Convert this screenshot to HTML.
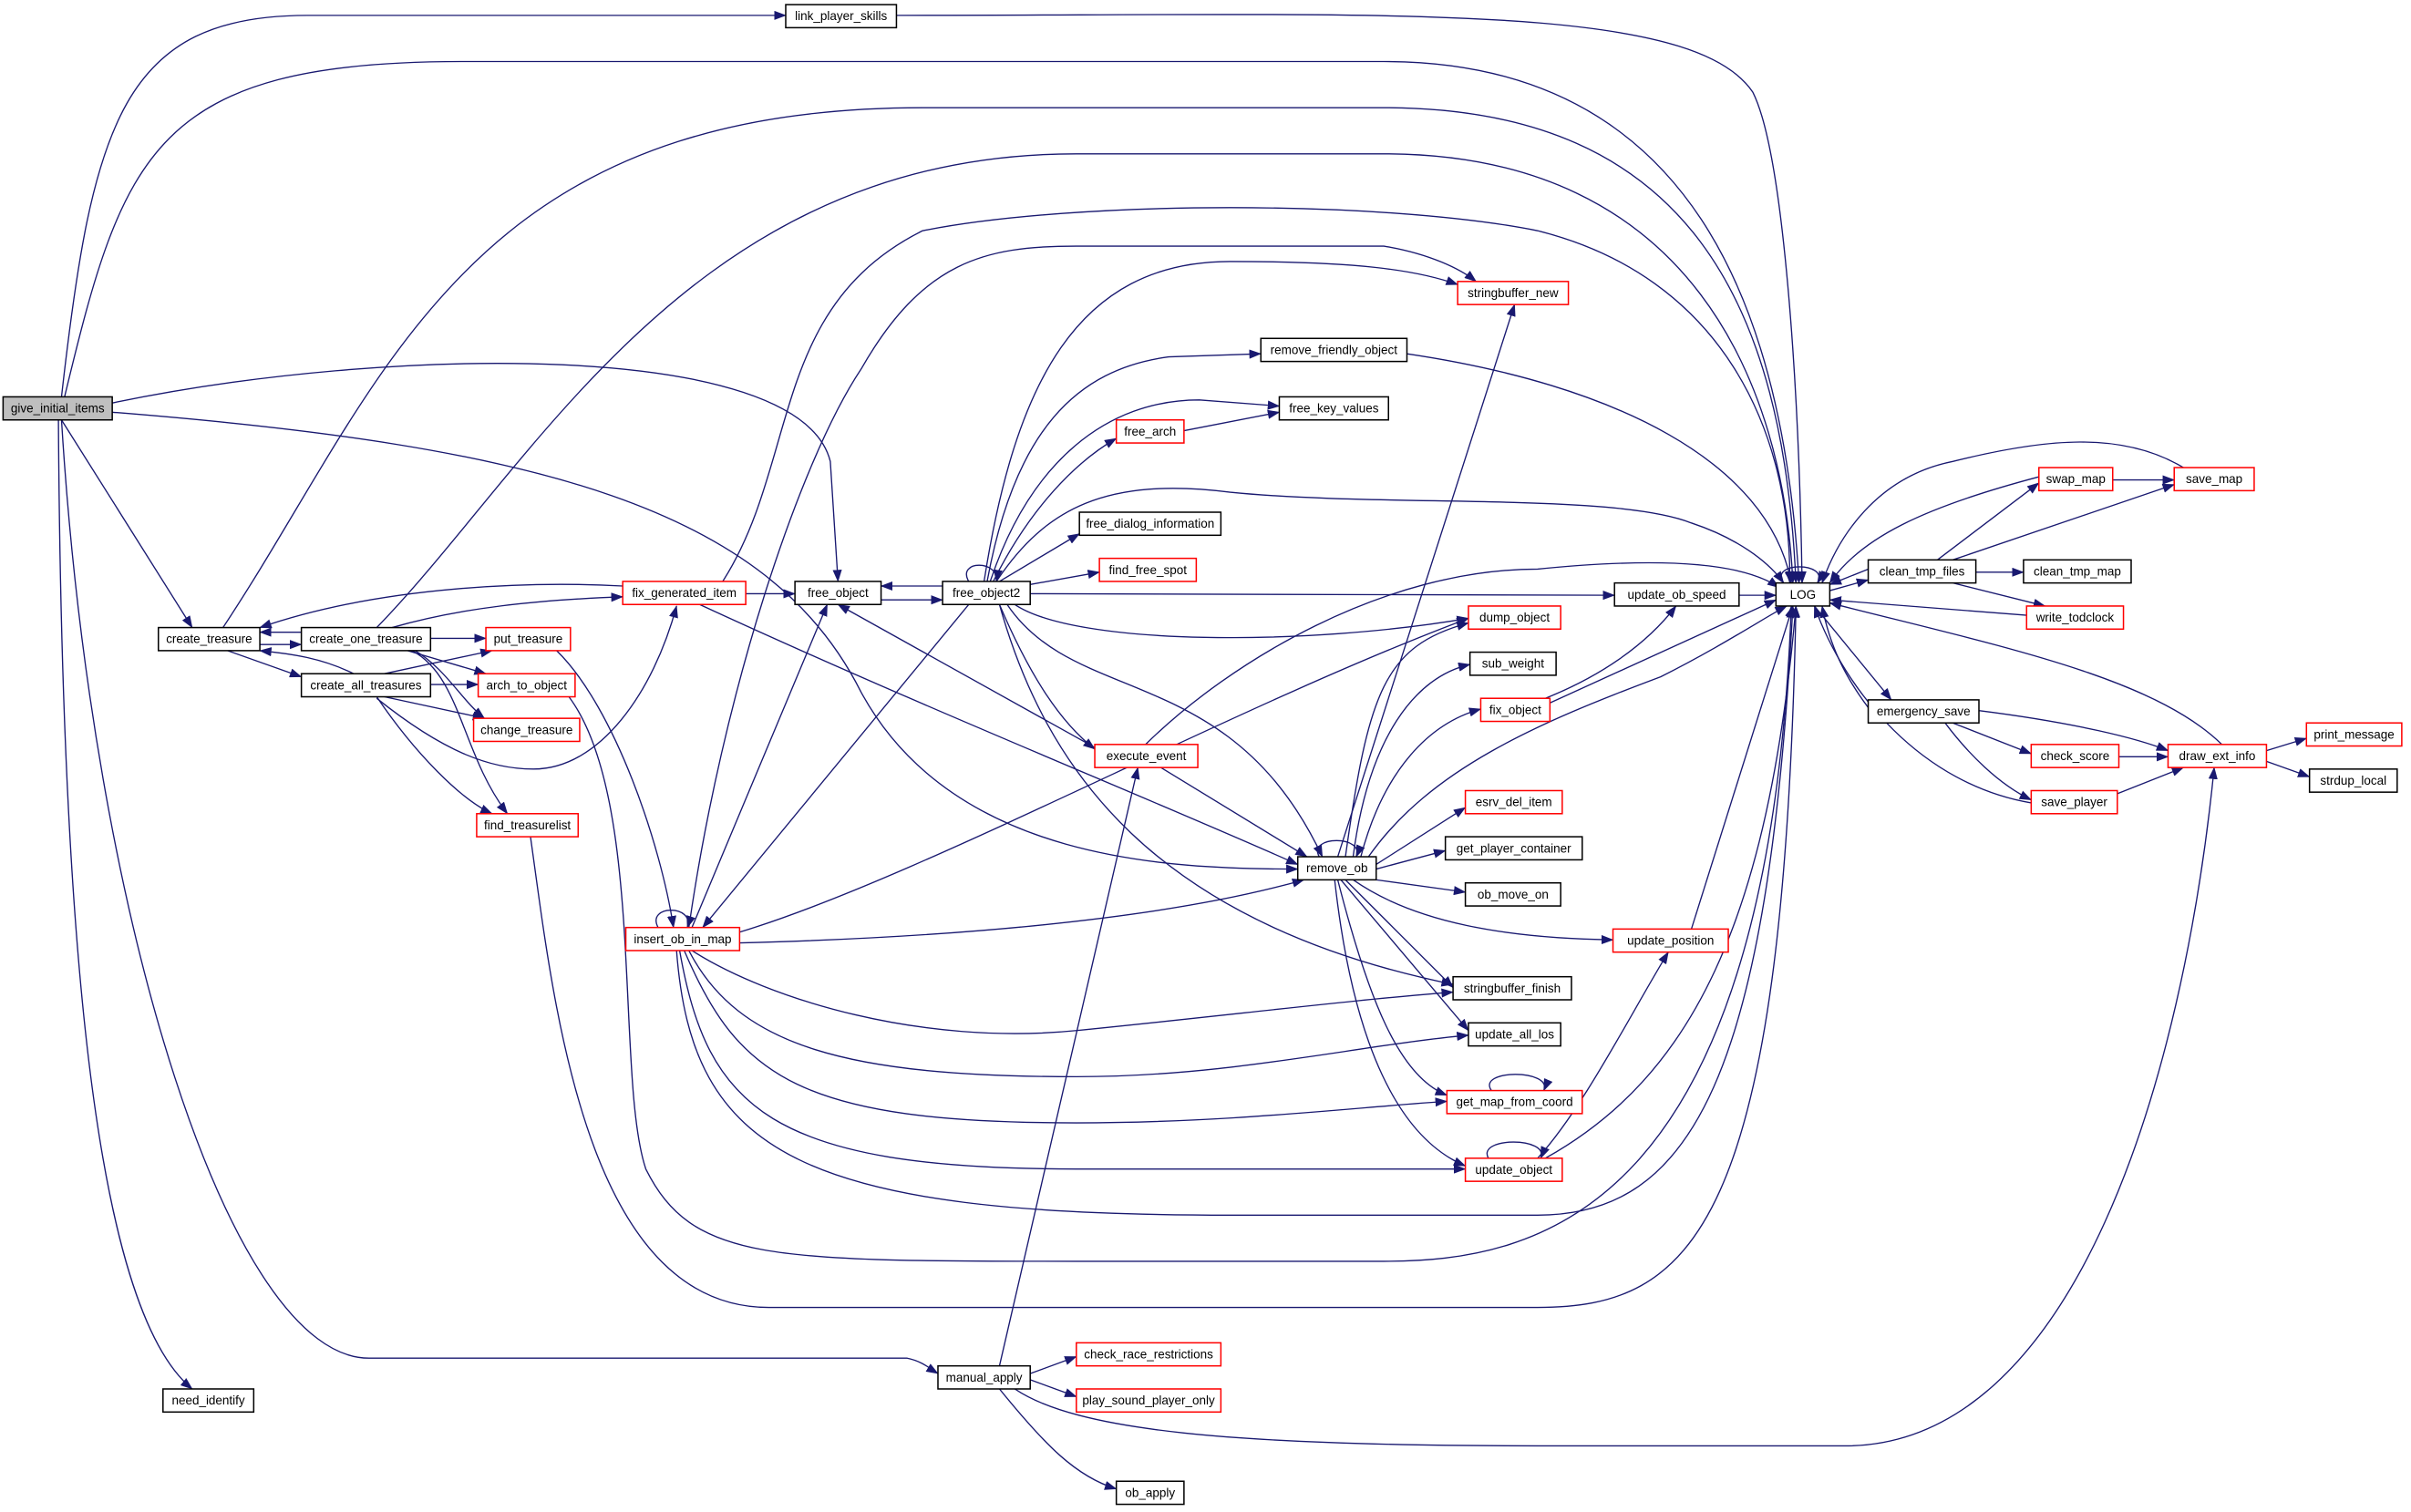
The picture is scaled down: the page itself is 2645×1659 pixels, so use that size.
<!DOCTYPE html>
<html><head><meta charset="utf-8"><style>
html,body{margin:0;padding:0;background:#fff;}
svg{display:block;}
text{font-family:"Liberation Sans",sans-serif;font-size:8px;fill:#000;text-anchor:middle;dominant-baseline:central;}
.e{fill:none;stroke:#191970;stroke-width:0.8;}
.n{fill:#fff;stroke:#000;stroke-width:0.9;}
.r{fill:#fff;stroke:#ff0000;stroke-width:0.9;}
</style></head><body>
<svg width="2645" height="1659" viewBox="0 0 1568 983" preserveAspectRatio="none" xmlns="http://www.w3.org/2000/svg">
<defs><marker id="a" markerWidth="8" markerHeight="6" refX="7.5" refY="3" orient="auto" markerUnits="userSpaceOnUse"><path d="M0,0 L8,3 L0,6 Z" fill="#191970"/></marker></defs>
<g class="e" marker-end="url(#a)">
<path d="M40,258 C60,80 80,10 200,10 L511,10"/>
<path d="M583,10 C900,10 1100,0 1140,60 C1160,100 1170,250 1172,379"/>
<path d="M42,258 C80,100 100,40 300,40 L900,40 C1100,40 1160,200 1170,379"/>
<path d="M40,273 L125,408"/>
<path d="M38,273 C40,600 60,850 125,903"/>
<path d="M40,273 C60,600 150,883 240,883 L590,883 C600,885 605,890 610,893"/>
<path d="M73,262 C250,225 520,220 540,300 L545,378"/>
<path d="M73,268 C350,290 500,330 560,450 C620,560 760,565 844,565"/>
<path d="M145,408 C250,250 300,70 600,70 L900,70 C1100,70 1160,200 1168,379"/>
<path d="M245,408 C350,300 450,100 700,100 L900,100 C1100,100 1160,250 1166,379"/>
<path d="M196,411 L169,411"/>
<path d="M169,419 L196,419"/>
<path d="M148,423 L196,440"/>
<path d="M230,438 C210,428 190,425 169,423"/>
<path d="M405,381 C350,378 250,380 169,408"/>
<path d="M255,408 C300,395 350,390 405,388"/>
<path d="M485,386 L517,386"/>
<path d="M470,378 C520,300 500,200 600,150 C700,130 900,130 1000,150 C1120,180 1165,280 1164,379"/>
<path d="M455,393 C600,460 750,520 844,562"/>
<path d="M280,415 L316,415"/>
<path d="M265,423 L316,438"/>
<path d="M270,423 C290,435 300,455 315,467"/>
<path d="M268,423 C300,440 300,490 330,529"/>
<path d="M250,438 L320,423"/>
<path d="M280,445 L311,445"/>
<path d="M250,453 L315,467"/>
<path d="M245,453 C270,490 300,520 320,529"/>
<path d="M245,454 C290,490 320,500 347,500 C390,500 425,450 440,394"/>
<path d="M362,423 C400,460 430,550 438,603"/>
<path d="M370,453 C420,520 400,700 420,760 C450,820 500,820 700,820 L900,820 C1000,820 1150,790 1165,394"/>
<path d="M345,544 C360,650 380,850 500,850 L1000,850 C1100,850 1160,800 1168,394"/>
<path d="M428,603 C420,588 452,588 447,603"/>
<path d="M450,603 L538,393"/>
<path d="M630,393 L457,603"/>
<path d="M448,603 C470,450 520,300 560,240 C600,170 640,160 700,160 L900,160 C930,165 950,175 960,183"/>
<path d="M481,606 C600,570 800,460 955,402"/>
<path d="M481,613 C600,610 750,600 848,572"/>
<path d="M450,618 C500,650 600,680 700,670 C800,660 880,650 945,645"/>
<path d="M448,618 C480,680 550,700 700,700 C800,700 880,680 955,673"/>
<path d="M445,618 C480,700 520,730 700,730 C800,730 880,720 941,716"/>
<path d="M442,618 C460,720 500,760 700,760 L953,760"/>
<path d="M440,618 C450,750 520,790 800,790 L1000,790 C1100,790 1150,700 1166,394"/>
<path d="M613,381 L573,381"/>
<path d="M573,390 L613,390"/>
<path d="M630,378 C622,364 650,364 648,378"/>
<path d="M640,378 C660,250 700,170 800,170 C880,170 920,175 948,185"/>
<path d="M642,378 C660,280 700,240 760,232 L820,230"/>
<path d="M644,378 C670,300 720,260 780,260 L832,264"/>
<path d="M646,378 C670,330 700,300 726,285"/>
<path d="M648,378 C680,330 720,310 800,320 C900,330 1050,320 1100,340 C1130,350 1150,365 1160,379"/>
<path d="M650,378 L702,347"/>
<path d="M670,380 L715,372"/>
<path d="M670,386 L1050,387"/>
<path d="M660,393 C700,420 850,420 955,402"/>
<path d="M650,393 C670,440 690,470 712,487"/>
<path d="M655,393 C700,460 800,430 860,557"/>
<path d="M650,393 C680,500 750,600 945,640"/>
<path d="M770,280 L832,268"/>
<path d="M915,230 C1050,250 1150,300 1165,379"/>
<path d="M712,486 L545,393"/>
<path d="M745,484 C800,430 900,370 1000,370 C1100,360 1140,370 1157,382"/>
<path d="M755,499 L850,557"/>
<path d="M650,888 L740,499"/>
<path d="M670,893 L700,882"/>
<path d="M670,897 L700,908"/>
<path d="M650,903 C680,940 700,960 726,968"/>
<path d="M660,903 C700,930 800,940 1000,940 L1200,940 C1350,940 1420,700 1440,499"/>
<path d="M858,557 C850,543 888,543 882,557"/>
<path d="M870,557 L985,198"/>
<path d="M875,557 C890,450 900,420 955,405"/>
<path d="M880,557 C890,480 920,440 956,432"/>
<path d="M885,557 C900,500 930,470 963,461"/>
<path d="M890,557 C930,500 1000,470 1080,440 C1120,420 1150,400 1162,394"/>
<path d="M895,562 L953,525"/>
<path d="M895,565 L940,553"/>
<path d="M895,572 L953,580"/>
<path d="M880,572 C920,600 980,610 1049,611"/>
<path d="M875,572 L945,642"/>
<path d="M872,572 L955,670"/>
<path d="M870,572 C890,650 910,700 941,712"/>
<path d="M868,572 C880,680 910,740 953,758"/>
<path d="M1005,454 C1040,440 1070,420 1090,394"/>
<path d="M1008,457 L1155,390"/>
<path d="M1131,387 L1155,387"/>
<path d="M1100,604 L1166,394"/>
<path d="M970,709 C960,695 1010,695 1004,709"/>
<path d="M968,753 C960,739 1008,739 1002,753"/>
<path d="M1000,753 C1030,720 1060,660 1085,619"/>
<path d="M1005,753 C1100,700 1150,600 1168,394"/>
<path d="M1160,379 C1150,365 1190,365 1182,379"/>
<path d="M1190,384 L1215,377"/>
<path d="M1215,370 L1190,380"/>
<path d="M1180,394 L1230,455"/>
<path d="M1215,460 C1200,440 1190,420 1185,394"/>
<path d="M1260,364 L1326,314"/>
<path d="M1270,364 L1414,315"/>
<path d="M1285,372 L1316,372"/>
<path d="M1270,379 L1330,394"/>
<path d="M1326,310 C1250,330 1210,350 1190,379"/>
<path d="M1374,312 L1414,312"/>
<path d="M1420,304 C1380,280 1330,285 1270,300 C1220,310 1195,350 1185,379"/>
<path d="M1318,400 L1190,390"/>
<path d="M1270,470 L1321,490"/>
<path d="M1265,470 C1280,490 1300,510 1321,520"/>
<path d="M1287,462 C1350,470 1390,480 1410,488"/>
<path d="M1378,492 L1410,492"/>
<path d="M1377,516 L1420,499"/>
<path d="M1321,522 C1250,510 1200,450 1180,394"/>
<path d="M1445,484 C1400,440 1300,420 1190,392"/>
<path d="M1474,488 L1500,480"/>
<path d="M1474,495 L1502,505"/>
</g>
<g>
<rect x="2" y="258" width="71" height="15" fill="#bfbfbf" stroke="#000" stroke-width="0.9"/><text x="37.5" y="265.5">give_initial_items</text>
<rect class="n" x="511" y="3" width="72" height="15"/><text x="547" y="10.5">link_player_skills</text>
<rect class="n" x="1155" y="379" width="35" height="15"/><text x="1172.5" y="386.5">LOG</text>
<rect class="n" x="103" y="408" width="66" height="15"/><text x="136" y="415.5">create_treasure</text>
<rect class="n" x="196" y="408" width="84" height="15"/><text x="238" y="415.5">create_one_treasure</text>
<rect class="n" x="196" y="438" width="84" height="15"/><text x="238" y="445.5">create_all_treasures</text>
<rect class="r" x="405" y="378" width="80" height="15"/><text x="445" y="385.5">fix_generated_item</text>
<rect class="n" x="517" y="378" width="56" height="15"/><text x="545" y="385.5">free_object</text>
<rect class="n" x="613" y="378" width="57" height="15"/><text x="641.5" y="385.5">free_object2</text>
<rect class="r" x="316" y="408" width="55" height="15"/><text x="343.5" y="415.5">put_treasure</text>
<rect class="r" x="311" y="438" width="63" height="15"/><text x="342.5" y="445.5">arch_to_object</text>
<rect class="r" x="308" y="467" width="69" height="15"/><text x="342.5" y="474.5">change_treasure</text>
<rect class="r" x="310" y="529" width="66" height="15"/><text x="343" y="536.5">find_treasurelist</text>
<rect class="r" x="407" y="603" width="74" height="15"/><text x="444" y="610.5">insert_ob_in_map</text>
<rect class="r" x="948" y="183" width="72" height="15"/><text x="984" y="190.5">stringbuffer_new</text>
<rect class="n" x="820" y="220" width="95" height="15"/><text x="867.5" y="227.5">remove_friendly_object</text>
<rect class="n" x="832" y="258" width="71" height="15"/><text x="867.5" y="265.5">free_key_values</text>
<rect class="r" x="726" y="273" width="44" height="15"/><text x="748" y="280.5">free_arch</text>
<rect class="n" x="702" y="333" width="92" height="15"/><text x="748" y="340.5">free_dialog_information</text>
<rect class="r" x="715" y="363" width="63" height="15"/><text x="746.5" y="370.5">find_free_spot</text>
<rect class="n" x="1050" y="379" width="81" height="15"/><text x="1090.5" y="386.5">update_ob_speed</text>
<rect class="r" x="955" y="394" width="60" height="15"/><text x="985" y="401.5">dump_object</text>
<rect class="n" x="956" y="424" width="56" height="15"/><text x="984" y="431.5">sub_weight</text>
<rect class="r" x="963" y="454" width="45" height="15"/><text x="985.5" y="461.5">fix_object</text>
<rect class="r" x="712" y="484" width="67" height="15"/><text x="745.5" y="491.5">execute_event</text>
<rect class="r" x="953" y="514" width="63" height="15"/><text x="984.5" y="521.5">esrv_del_item</text>
<rect class="n" x="940" y="544" width="89" height="15"/><text x="984.5" y="551.5">get_player_container</text>
<rect class="n" x="844" y="557" width="51" height="15"/><text x="869.5" y="564.5">remove_ob</text>
<rect class="n" x="953" y="574" width="62" height="15"/><text x="984" y="581.5">ob_move_on</text>
<rect class="r" x="1049" y="604" width="75" height="15"/><text x="1086.5" y="611.5">update_position</text>
<rect class="n" x="945" y="635" width="77" height="15"/><text x="983.5" y="642.5">stringbuffer_finish</text>
<rect class="n" x="955" y="665" width="60" height="15"/><text x="985" y="672.5">update_all_los</text>
<rect class="r" x="941" y="709" width="88" height="15"/><text x="985" y="716.5">get_map_from_coord</text>
<rect class="r" x="953" y="753" width="63" height="15"/><text x="984.5" y="760.5">update_object</text>
<rect class="n" x="1215" y="364" width="70" height="15"/><text x="1250" y="371.5">clean_tmp_files</text>
<rect class="n" x="1316" y="364" width="70" height="15"/><text x="1351" y="371.5">clean_tmp_map</text>
<rect class="r" x="1326" y="304" width="48" height="15"/><text x="1350" y="311.5">swap_map</text>
<rect class="r" x="1414" y="304" width="52" height="15"/><text x="1440" y="311.5">save_map</text>
<rect class="r" x="1318" y="394" width="63" height="15"/><text x="1349.5" y="401.5">write_todclock</text>
<rect class="n" x="1215" y="455" width="72" height="15"/><text x="1251" y="462.5">emergency_save</text>
<rect class="r" x="1321" y="484" width="57" height="15"/><text x="1349.5" y="491.5">check_score</text>
<rect class="r" x="1321" y="514" width="56" height="15"/><text x="1349" y="521.5">save_player</text>
<rect class="r" x="1410" y="484" width="64" height="15"/><text x="1442" y="491.5">draw_ext_info</text>
<rect class="r" x="1500" y="470" width="62" height="15"/><text x="1531" y="477.5">print_message</text>
<rect class="n" x="1502" y="500" width="57" height="15"/><text x="1530.5" y="507.5">strdup_local</text>
<rect class="n" x="610" y="888" width="60" height="15"/><text x="640" y="895.5">manual_apply</text>
<rect class="r" x="700" y="873" width="94" height="15"/><text x="747" y="880.5">check_race_restrictions</text>
<rect class="r" x="700" y="903" width="94" height="15"/><text x="747" y="910.5">play_sound_player_only</text>
<rect class="n" x="726" y="963" width="44" height="15"/><text x="748" y="970.5">ob_apply</text>
<rect class="n" x="106" y="903" width="59" height="15"/><text x="135.5" y="910.5">need_identify</text>
</g>
</svg>
</body></html>
